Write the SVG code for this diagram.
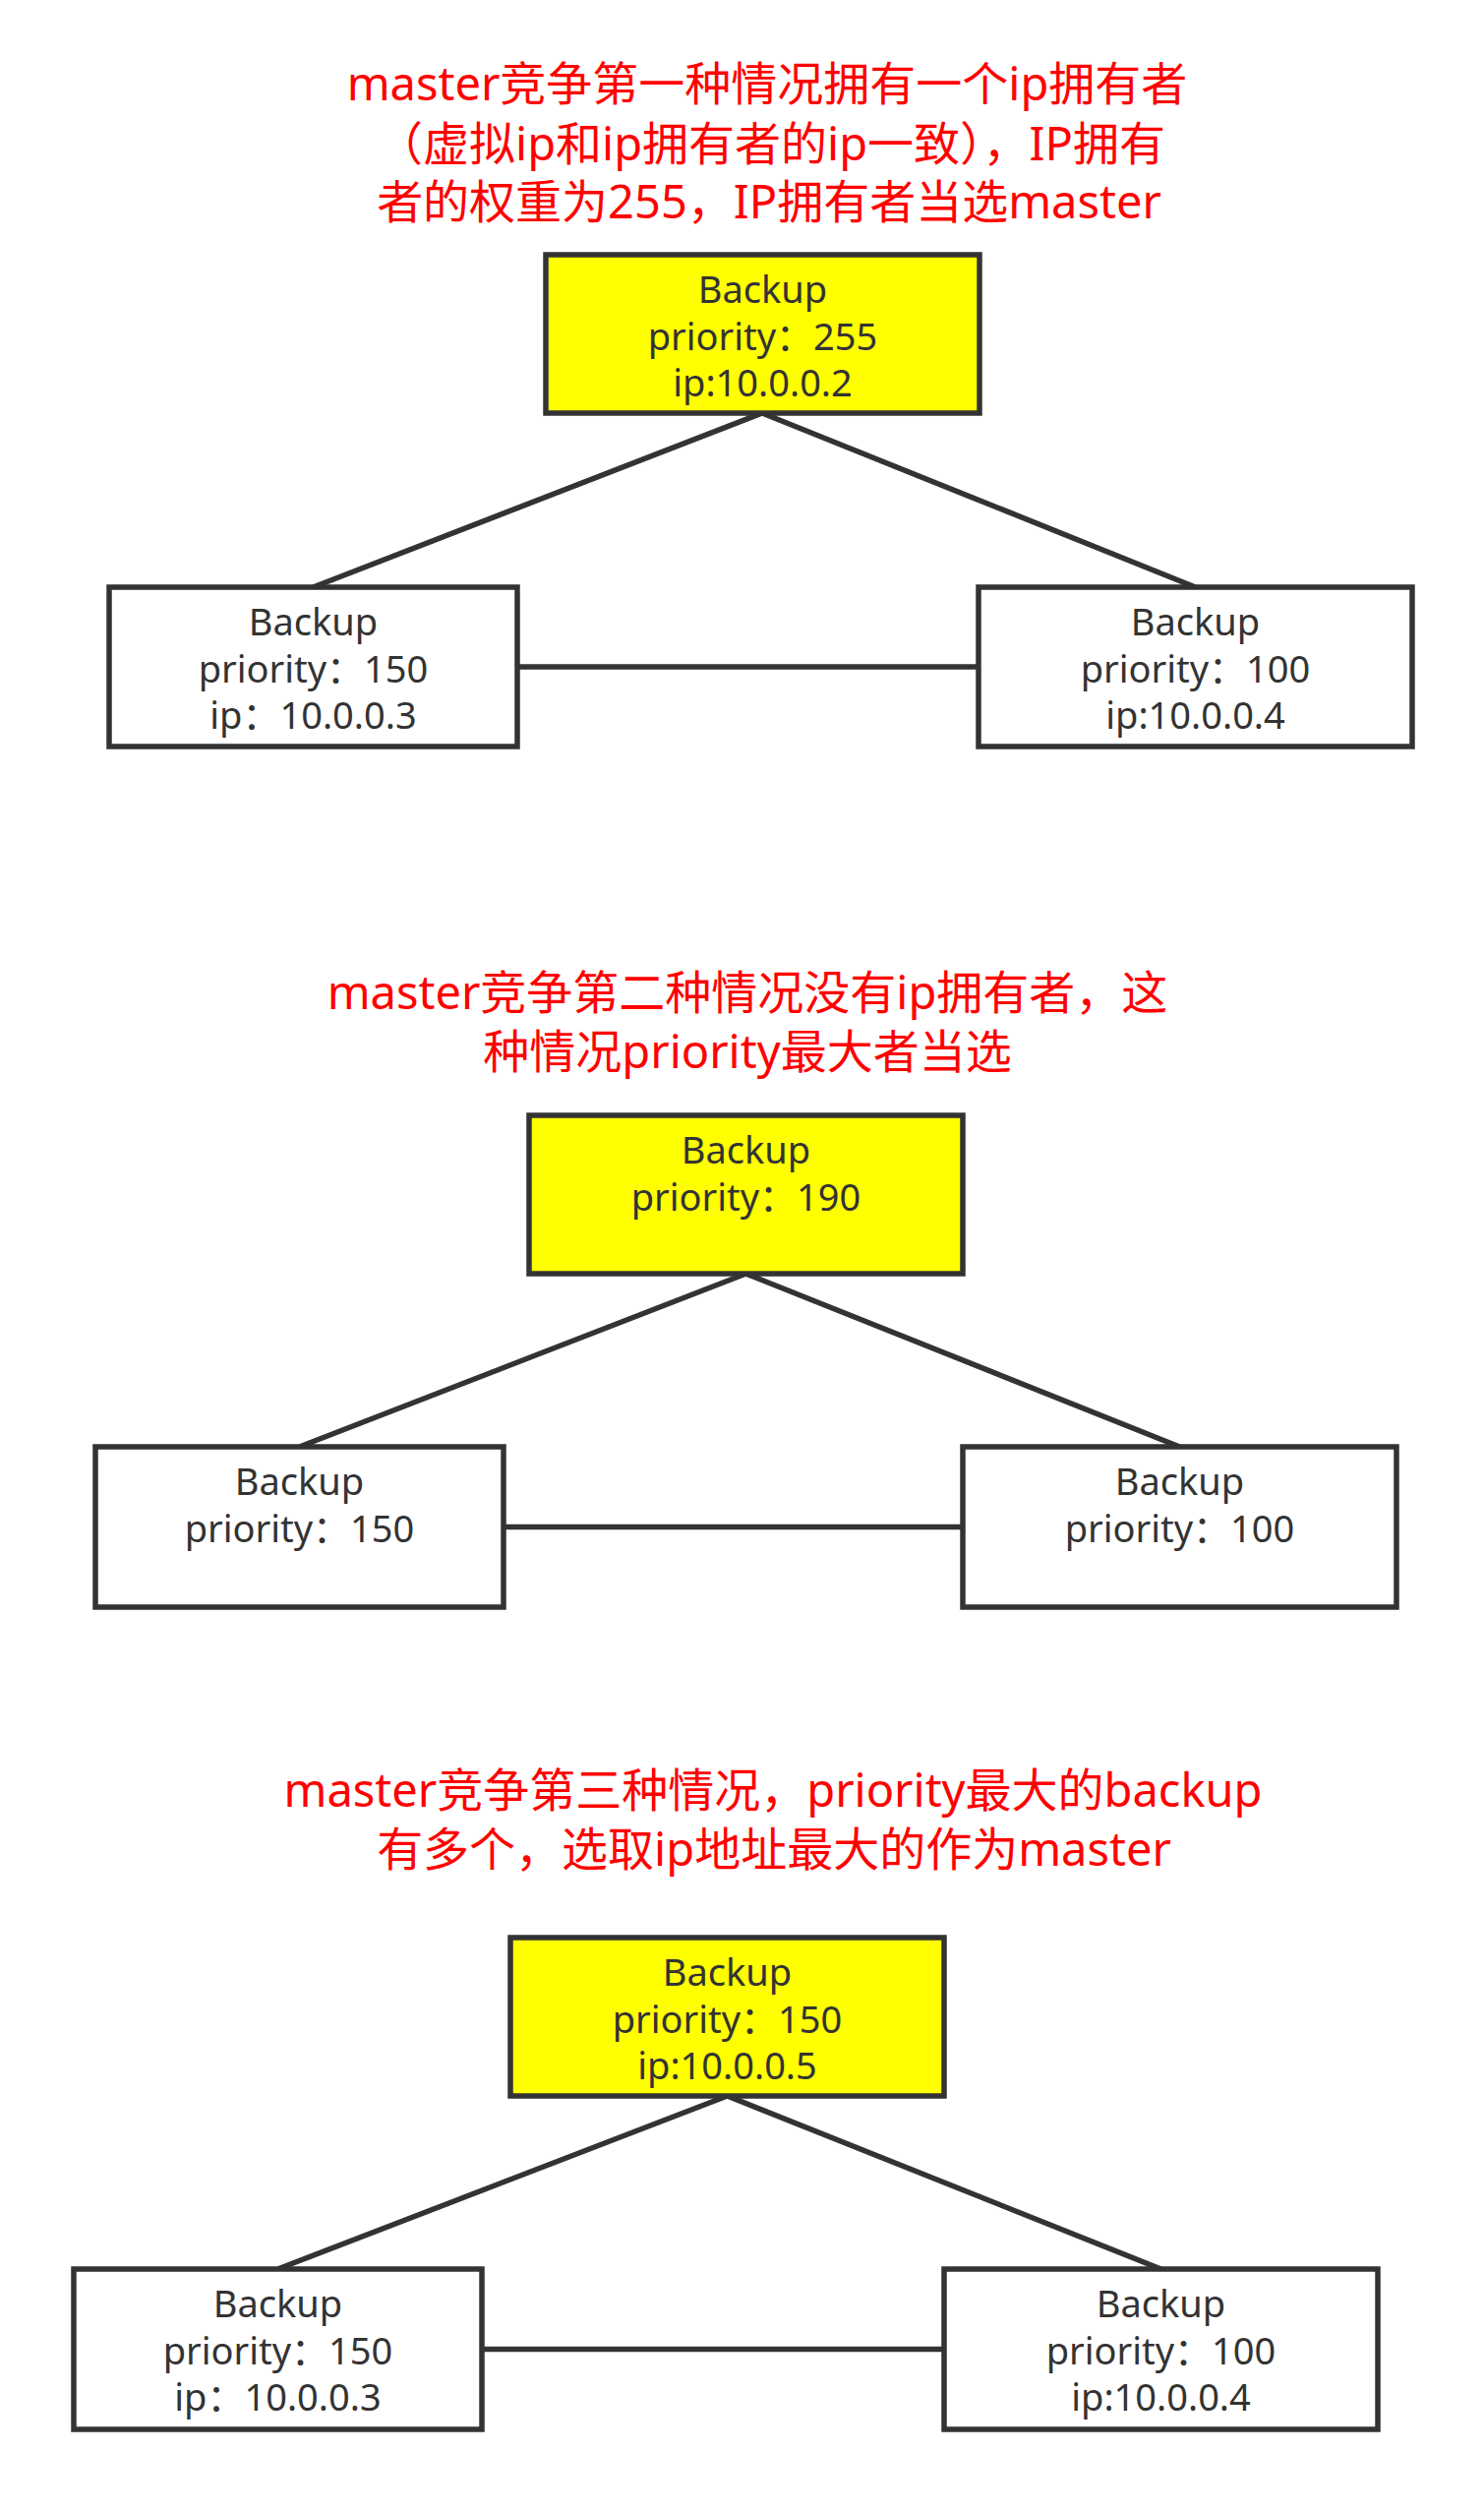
<svg xmlns="http://www.w3.org/2000/svg" width="1509" height="2553" viewBox="0 0 1509 2553">
<style>
.title{font-family:"Noto Sans","Noto Sans CJK SC",sans-serif;font-size:47px;fill:#FF0000;text-anchor:middle}
.box{stroke:#333333;stroke-width:5.5;fill:#FFFFFF}
.master{fill:#FFFF00}
.lbl{font-family:"Noto Sans","Noto Sans CJK SC",sans-serif;font-size:38px;fill:#333333;text-anchor:middle}
.conn{stroke:#333333;stroke-width:5.5;fill:none}
</style>
<rect width="1509" height="2553" fill="#FFFFFF"/>
<g id="titles">
<text class="title" x="780" y="102">master竞争第一种情况拥有一个ip拥有者</text>
<text class="title" x="784" y="163">（虚拟ip和ip拥有者的ip一致），IP拥有</text>
<text class="title" x="782" y="222">者的权重为255，IP拥有者当选master</text>
<text class="title" x="760" y="1026">master竞争第二种情况没有ip拥有者，这</text>
<text class="title" x="760" y="1086">种情况priority最大者当选</text>
<text class="title" x="786" y="1837">master竞争第三种情况，priority最大的backup</text>
<text class="title" x="787" y="1897">有多个，选取ip地址最大的作为master</text>
</g>
<g id="connectors">
<line class="conn" x1="775" y1="420" x2="318.5" y2="597"/>
<line class="conn" x1="775" y1="420" x2="1215.5" y2="597"/>
<line class="conn" x1="526" y1="678" x2="995" y2="678"/>
<line class="conn" x1="758.5" y1="1295" x2="304.5" y2="1471"/>
<line class="conn" x1="758.5" y1="1295" x2="1199.5" y2="1471"/>
<line class="conn" x1="512" y1="1552.5" x2="979" y2="1552.5"/>
<line class="conn" x1="739.5" y1="2131" x2="282.5" y2="2307"/>
<line class="conn" x1="739.5" y1="2131" x2="1180.5" y2="2307"/>
<line class="conn" x1="490" y1="2388.5" x2="960" y2="2388.5"/>
</g>
<g id="d1-top">
<rect class="box master" x="555" y="259" width="441" height="161"/>
<text class="lbl" x="775.5" y="308">Backup</text>
<text class="lbl" x="775.5" y="356">priority：255</text>
<text class="lbl" x="775.5" y="403">ip:10.0.0.2</text>
</g>
<g id="d1-left">
<rect class="box" x="111" y="597" width="415" height="162"/>
<text class="lbl" x="318.5" y="646">Backup</text>
<text class="lbl" x="318.5" y="694">priority：150</text>
<text class="lbl" x="318.5" y="741">ip：10.0.0.3</text>
</g>
<g id="d1-right">
<rect class="box" x="995" y="597" width="441" height="162"/>
<text class="lbl" x="1215.5" y="646">Backup</text>
<text class="lbl" x="1215.5" y="694">priority：100</text>
<text class="lbl" x="1215.5" y="741">ip:10.0.0.4</text>
</g>
<g id="d2-top">
<rect class="box master" x="538" y="1134" width="441" height="161"/>
<text class="lbl" x="758.5" y="1183">Backup</text>
<text class="lbl" x="758.5" y="1231">priority：190</text>
</g>
<g id="d2-left">
<rect class="box" x="97" y="1471" width="415" height="163"/>
<text class="lbl" x="304.5" y="1520">Backup</text>
<text class="lbl" x="304.5" y="1568">priority：150</text>
</g>
<g id="d2-right">
<rect class="box" x="979" y="1471" width="441" height="163"/>
<text class="lbl" x="1199.5" y="1520">Backup</text>
<text class="lbl" x="1199.5" y="1568">priority：100</text>
</g>
<g id="d3-top">
<rect class="box master" x="519" y="1970" width="441" height="161"/>
<text class="lbl" x="739.5" y="2019">Backup</text>
<text class="lbl" x="739.5" y="2067">priority：150</text>
<text class="lbl" x="739.5" y="2114">ip:10.0.0.5</text>
</g>
<g id="d3-left">
<rect class="box" x="75" y="2307" width="415" height="163"/>
<text class="lbl" x="282.5" y="2356">Backup</text>
<text class="lbl" x="282.5" y="2404">priority：150</text>
<text class="lbl" x="282.5" y="2451">ip：10.0.0.3</text>
</g>
<g id="d3-right">
<rect class="box" x="960" y="2307" width="441" height="163"/>
<text class="lbl" x="1180.5" y="2356">Backup</text>
<text class="lbl" x="1180.5" y="2404">priority：100</text>
<text class="lbl" x="1180.5" y="2451">ip:10.0.0.4</text>
</g>
</svg>
